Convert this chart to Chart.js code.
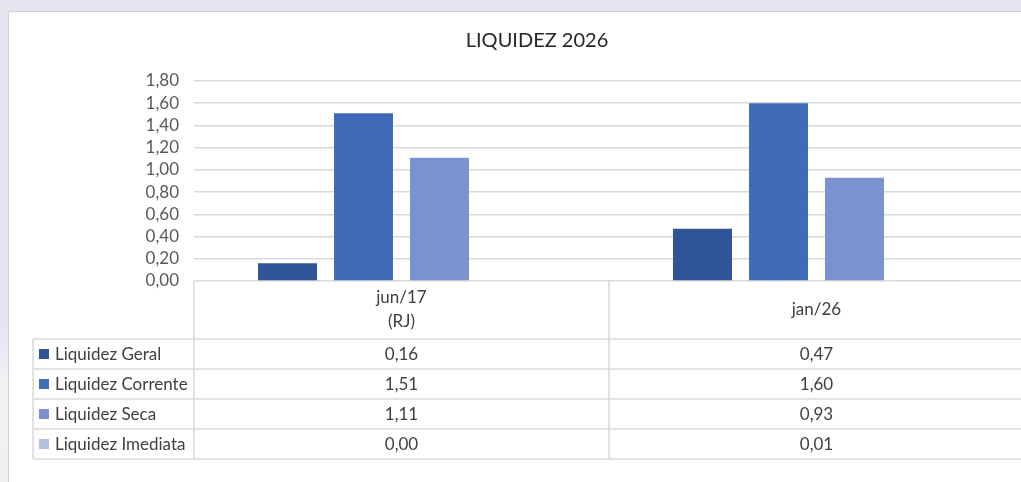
<!DOCTYPE html>
<html>
<head>
<meta charset="utf-8">
<script src="https://cdn.jsdelivr.net/npm/chart.js@4.4.1/dist/chart.umd.min.js"></script>
<style>
    html, body { margin: 0; padding: 0; }
    body {
        width: 1021px;
        height: 482px;
        overflow: hidden;
        position: relative;
        background: linear-gradient(to bottom, #e5e6ee 0, #e5e6ee 330px, #f3f3f7 390px, #eeeef3 482px);
        font-family: Lato, sans-serif;
    }
    .chart-box {
        position: absolute;
        left: 8px;
        top: 11px;
        width: 1100px;
        height: 520px;
        background: #fff;
        border: 1px solid #d2d2d8;
    }
    #chartWrap {
        position: absolute;
        left: 9px;
        top: 12px;
        width: 1056px;
        height: 470px;
    }
</style>
</head>
<body>
<div class="chart-box"></div>
<div id="chartWrap"><canvas id="liquidezChart"></canvas></div>

<script>
// Chart data
const categories = [['jun/17', '(RJ)'], 'jan/26'];
const seriesNames = ['Liquidez Geral', 'Liquidez Corrente', 'Liquidez Seca', 'Liquidez Imediata'];
const liquidezGeral = [0.16, 0.47];
const liquidezCorrente = [1.51, 1.60];
const liquidezSeca = [1.11, 0.93];
const liquidezImediata = [0.00, 0.01];
const seriesColors = ['#2f5597', '#3f6bb8', '#7a93d0', '#b4c0e0'];
const yTicks = [0, 0.2, 0.4, 0.6, 0.8, 1.0, 1.2, 1.4, 1.6, 1.8];

const gridColor = '#d9d9d9';
const textColor = '#404040';
const fontFamily = 'Lato, sans-serif';

function fmt(v) {
    return v.toFixed(2).replace('.', ',');
}

// Data table drawn under the plot, Excel style
const dataTablePlugin = {
    id: 'dataTable',
    afterDraw(chart) {
        const ctx = chart.ctx;
        const area = chart.chartArea;
        const x = chart.scales.x;
        const top = area.bottom;
        const headerH = 58;
        const rowH = 30;
        const legendLeft = 24;
        const tableBottom = top + headerH + rowH * 4;
        const half = (x.getPixelForValue(1) - x.getPixelForValue(0)) / 2;

        ctx.save();
        ctx.strokeStyle = gridColor;
        ctx.lineWidth = 1.5;
        ctx.beginPath();
        // vertical lines
        ctx.moveTo(area.left, top);
        ctx.lineTo(area.left, tableBottom);
        categories.forEach((c, i) => {
            const right = x.getPixelForValue(i) + half;
            ctx.moveTo(right, top);
            ctx.lineTo(right, tableBottom);
        });
        ctx.moveTo(legendLeft, top + headerH);
        ctx.lineTo(legendLeft, tableBottom);
        // horizontal lines
        for (let r = 0; r <= 4; r++) {
            const y = top + headerH + r * rowH;
            ctx.moveTo(legendLeft, y);
            ctx.lineTo(area.right, y);
        }
        ctx.stroke();

        ctx.fillStyle = textColor;
        ctx.font = '17px ' + fontFamily;
        ctx.textAlign = 'center';
        ctx.textBaseline = 'middle';

        // header labels
        categories.forEach((c, i) => {
            const cx = x.getPixelForValue(i);
            const lines = Array.isArray(c) ? c : [c];
            const lh = 24;
            const y0 = top + headerH / 2 - (lines.length - 1) * lh / 2;
            lines.forEach((l, j) => ctx.fillText(l, cx, y0 + j * lh));
        });

        // rows
        chart.data.datasets.forEach((ds, r) => {
            const cy = top + headerH + r * rowH + rowH / 2;
            ctx.fillStyle = ds.backgroundColor;
            ctx.fillRect(legendLeft + 6, cy - 5, 10, 10);
            ctx.fillStyle = textColor;
            ctx.textAlign = 'left';
            ctx.fillText(ds.label, legendLeft + 22, cy + 1);
            ctx.textAlign = 'center';
            ds.data.forEach((v, i) => {
                ctx.fillText(fmt(v), x.getPixelForValue(i), cy + 1);
            });
        });
        ctx.restore();
    }
};

const seriesData = [liquidezGeral, liquidezCorrente, liquidezSeca, liquidezImediata];

new Chart(document.getElementById('liquidezChart'), {
    type: 'bar',
    data: {
        labels: categories,
        datasets: seriesNames.map((name, i) => ({
            label: name,
            data: seriesData[i],
            backgroundColor: seriesColors[i],
            borderWidth: 0,
            categoryPercentage: 0.7325,
            barPercentage: 0.776
        }))
    },
    options: {
        responsive: true,
        maintainAspectRatio: false,
        animation: false,
        layout: {
            padding: { left: 41, right: 41, top: 0, bottom: 201 }
        },
        plugins: {
            legend: { display: false },
            tooltip: { enabled: false },
            title: {
                display: true,
                text: 'LIQUIDEZ 2026',
                color: '#262626',
                font: { family: fontFamily, size: 20, weight: 'normal' },
                padding: { top: 17, bottom: 28 }
            }
        },
        scales: {
            x: {
                display: false
            },
            y: {
                min: 0,
                max: 1.8,
                afterBuildTicks(scale) {
                    scale.ticks = yTicks.map(v => ({ value: v }));
                },
                afterFit(scale) {
                    scale.width = 144;
                },
                border: { display: false },
                grid: {
                    color: gridColor,
                    lineWidth: 1.5,
                    drawTicks: false
                },
                ticks: {
                    autoSkip: false,
                    padding: 15,
                    color: '#595959',
                    font: { family: fontFamily, size: 17 },
                    callback: v => fmt(v)
                }
            }
        }
    },
    plugins: [dataTablePlugin]
});
</script>
</body>
</html>
